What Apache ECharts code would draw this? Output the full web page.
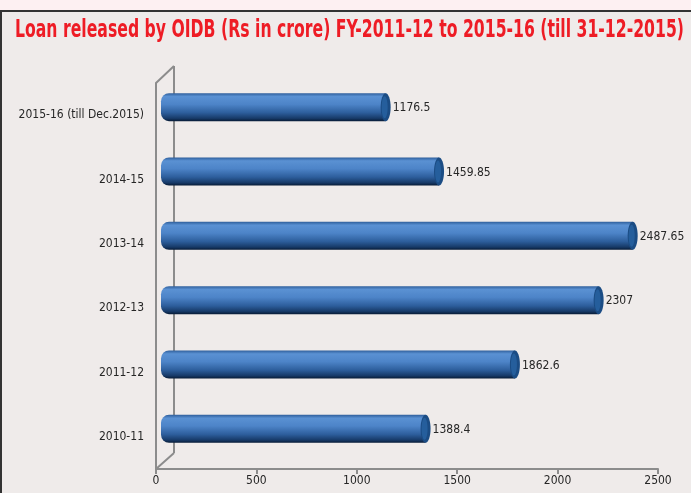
<!DOCTYPE html>
<html>
<head>
<meta charset="utf-8">
<script src="https://cdn.jsdelivr.net/npm/echarts@6/dist/echarts.min.js"></script>
<style>
  html, body { margin: 0; padding: 0; background: #fdf0f2; }
  #chart { width: 691px; height: 493px; }
</style>
</head>
<body>
<div id="chart"></div>
<script>
// loan released per financial year (Rs crore), bottom to top
const categories = ['2010-11', '2011-12', '2012-13', '2013-14', '2014-15', '2015-16 (till Dec.2015)'];
const loanValues = [1388.4, 1862.6, 2307, 2487.65, 1459.85, 1176.5];
const valueLabels = ['1388.4', '1862.6', '2307', '2487.65', '1459.85', '1176.5'];
const xTicks = [0, 500, 1000, 1500, 2000, 2500];

const FONT = "'Liberation Sans Narrow', 'DejaVu Sans Condensed', sans-serif";
const AXIS_GRAY = '#8c8c8c';
const TITLE = 'Loan released by OIDB (Rs in crore) FY-2011-12 to 2015-16 (till 31-12-2015)';

const chart = echarts.init(document.getElementById('chart'));

const barGradient = new echarts.graphic.LinearGradient(0, 0, 0, 1, [
  { offset: 0, color: '#2f5f9c' },
  { offset: 0.12, color: '#5a91d3' },
  { offset: 0.4, color: '#4d84c8' },
  { offset: 0.7, color: '#2d5e9c' },
  { offset: 0.9, color: '#173a68' },
  { offset: 1, color: '#071b36' }
]);

function renderCylinder(params, api) {
  const v = api.value(0);
  const idx = api.value(1);
  const start = api.coord([0, idx]);
  const end = api.coord([v, idx]);
  const h = 28;
  const rx = 5;
  const y = start[1] - h / 2;
  return {
    type: 'group',
    children: [
      {
        type: 'rect',
        shape: { x: start[0] - 3, y: y, width: end[0] - start[0] + 3, height: h, r: [8, 0, 0, 8] },
        style: { fill: barGradient }
      },
      {
        type: 'ellipse',
        shape: { cx: end[0], cy: start[1], rx: rx, ry: h / 2 },
        style: { fill: '#1b4c84' }
      },
      {
        type: 'ellipse',
        shape: { cx: end[0] - 1, cy: start[1], rx: rx - 2, ry: h / 2 - 3 },
        style: { fill: '#255e9c' }
      },
      {
        type: 'text',
        style: {
          text: valueLabels[params.dataIndex],
          x: end[0] + rx + 2,
          y: start[1] + 1,
          verticalAlign: 'middle',
          fill: '#262626',
          font: '12px ' + FONT
        }
      }
    ]
  };
}

chart.setOption({
  backgroundColor: '#fdf0f2',
  animation: false,
  graphic: [
    { type: 'rect', z: -10, shape: { x: 0, y: 10, width: 691, height: 483 }, style: { fill: '#efebea' } },
    { type: 'line', z: -9, shape: { x1: 0, y1: 11, x2: 691, y2: 11 }, style: { stroke: '#333', lineWidth: 2 } },
    { type: 'line', z: -9, shape: { x1: 1, y1: 10, x2: 1, y2: 493 }, style: { stroke: '#333', lineWidth: 2 } },
    {
      type: 'text', z: 10, x: 349.5, y: 31, scaleX: 0.726, originX: 0, originY: 0,
      style: {
        text: TITLE, align: 'center', verticalAlign: 'middle',
        fill: '#ee1c25', font: 'bold 24px ' + FONT
      }
    },
    // 3d back wall and floor edges
    { type: 'line', z: 1, shape: { x1: 174, y1: 66, x2: 174, y2: 453 }, style: { stroke: AXIS_GRAY, lineWidth: 2 } },
    { type: 'line', z: 1, shape: { x1: 156, y1: 83, x2: 174, y2: 66 }, style: { stroke: AXIS_GRAY, lineWidth: 2 } },
    { type: 'line', z: 1, shape: { x1: 156, y1: 469, x2: 174, y2: 453 }, style: { stroke: AXIS_GRAY, lineWidth: 2 } }
  ],
  grid: [
    { left: 156, top: 83, width: 502, height: 386 },
    { left: 164, top: 75, width: 471, height: 386 }
  ],
  xAxis: [
    {
      gridIndex: 0, type: 'value', min: xTicks[0], max: xTicks[xTicks.length - 1], interval: 500,
      splitLine: { show: false },
      axisLine: { show: true, lineStyle: { color: AXIS_GRAY, width: 2 } },
      axisTick: { show: true, length: 5, lineStyle: { color: AXIS_GRAY, width: 2 } },
      axisLabel: { color: '#262626', fontSize: 12, fontFamily: FONT, margin: 6, formatter: v => String(v) }
    },
    {
      gridIndex: 1, type: 'value', min: xTicks[0], max: xTicks[xTicks.length - 1], show: false
    }
  ],
  yAxis: [
    {
      gridIndex: 0, type: 'category', data: categories,
      axisLine: { show: true, lineStyle: { color: AXIS_GRAY, width: 2 } },
      axisTick: { show: false },
      axisLabel: { color: '#262626', fontSize: 12, fontFamily: FONT, margin: 12 }
    },
    { gridIndex: 1, type: 'category', data: categories, show: false }
  ],
  series: [
    {
      type: 'custom',
      xAxisIndex: 1,
      yAxisIndex: 1,
      renderItem: renderCylinder,
      encode: { x: 0, y: 1 },
      data: loanValues.map((v, i) => [v, i]),
      z: 5
    }
  ]
});
</script>
</body>
</html>
